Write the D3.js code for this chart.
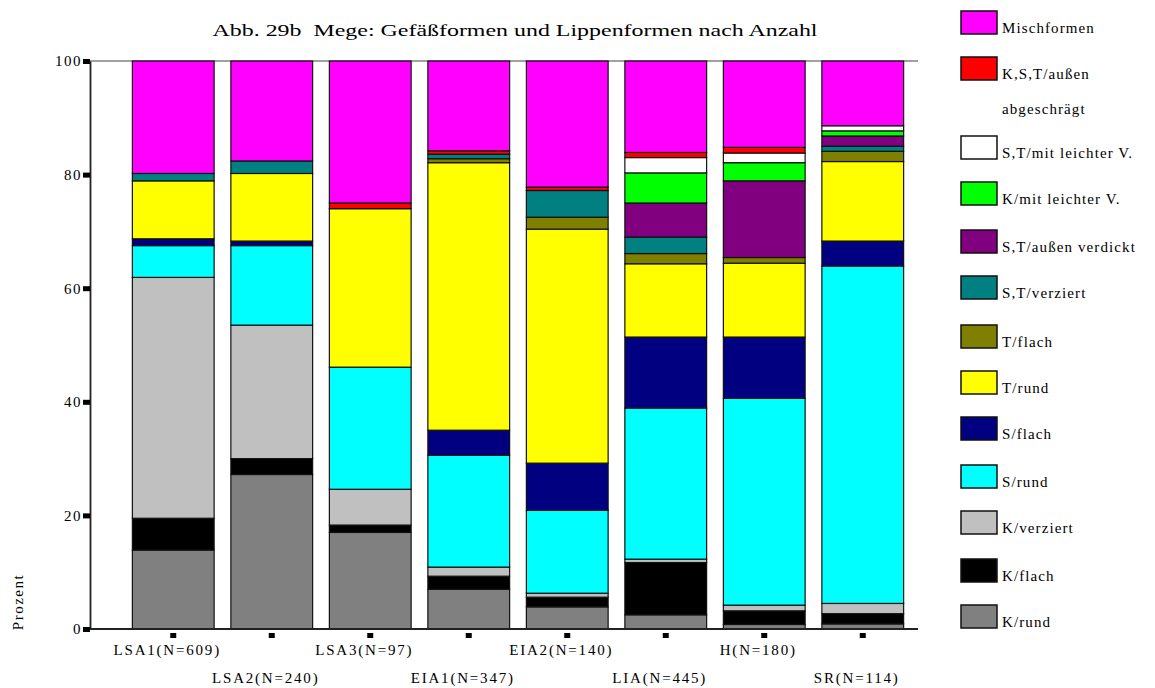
<!DOCTYPE html>
<html>
<head>
<meta charset="utf-8">
<script src="https://cdn.jsdelivr.net/npm/d3@7/dist/d3.min.js"></script>
<style>
  html, body { margin: 0; padding: 0; background: #fff; }
  svg { display: block; }
  text { font-family: "Liberation Serif", "Times New Roman", serif; fill: #000; white-space: pre; }
</style>
</head>
<body>
<svg id="chart" width="1155" height="688"></svg>
<script>
// Sites / periods with sample sizes
const categories = ["LSA1(N=609)", "LSA2(N=240)", "LSA3(N=97)", "EIA1(N=347)",
                    "EIA2(N=140)", "LIA(N=445)", "H(N=180)", "SR(N=114)"];

// Percent shares per vessel / rim form, stacked bottom to top
const kRund        = [13.9, 27.2, 17.0,  7.0,  3.9,  2.5,  0.8,  0.9];
const kFlach       = [ 5.6,  2.8,  1.3,  2.3,  1.7,  9.2,  2.4,  1.8];
const kVerziert    = [42.4, 23.5,  6.3,  1.6,  0.7,  0.6,  1.0,  1.8];
const sRund        = [ 5.6, 14.0, 21.5, 19.7, 14.6, 26.6, 36.4, 59.4];
const sFlach       = [ 1.2,  0.8,  0.0,  4.4,  8.3, 12.5, 10.8,  4.4];
const tRund        = [10.2, 11.9, 27.9, 47.1, 41.2, 12.9, 13.0, 14.0];
const tFlach       = [ 0.0,  0.0,  0.0,  0.7,  2.1,  1.8,  1.0,  1.8];
const stVerziert   = [ 1.3,  2.2,  0.0,  0.8,  4.7,  2.9,  0.0,  0.9];
const stVerdickt   = [ 0.0,  0.0,  0.0,  0.0,  0.0,  6.0, 13.5,  1.8];
const kLeichtV     = [ 0.0,  0.0,  0.0,  0.0,  0.0,  5.3,  3.2,  0.9];
const stLeichtV    = [ 0.0,  0.0,  0.0,  0.0,  0.0,  2.7,  1.7,  0.9];
const abgeschraegt = [ 0.0,  0.0,  1.0,  0.6,  0.6,  0.9,  1.0,  0.0];
const misch        = [19.8, 17.6, 25.0, 15.8, 22.2, 16.1, 15.2, 11.4];

const seriesNames = ["K/rund", "K/flach", "K/verziert", "S/rund", "S/flach", "T/rund",
                     "T/flach", "S,T/verziert", "S,T/außen verdickt", "K/mit leichter V.",
                     "S,T/mit leichter V.", "K,S,T/außen abgeschrägt", "Mischformen"];
const seriesValues = [kRund, kFlach, kVerziert, sRund, sFlach, tRund, tFlach, stVerziert,
                      stVerdickt, kLeichtV, stLeichtV, abgeschraegt, misch];
const seriesColors = ["#808080", "#000000", "#c0c0c0", "#00ffff", "#000080", "#ffff00",
                      "#808000", "#008080", "#800080", "#00ff00", "#ffffff", "#ff0000", "#ff00ff"];
// Legend text lines (the red entry wraps onto two lines)
const legendLines = [["K/rund"], ["K/flach"], ["K/verziert"], ["S/rund"], ["S/flach"], ["T/rund"],
                     ["T/flach"], ["S,T/verziert"], ["S,T/außen verdickt"], ["K/mit leichter V."],
                     ["S,T/mit leichter V."], ["K,S,T/außen", "abgeschrägt"], ["Mischformen"]];
const yTicks = [0, 20, 40, 60, 80, 100];

const title = "Abb. 29b  Mege: Gefäßformen und Lippenformen nach Anzahl";

// Build table for d3.stack
const table = categories.map((c, i) => {
  const row = { cat: c };
  seriesNames.forEach((s, k) => { row[s] = seriesValues[k][i]; });
  return row;
});

const svg = d3.select("#chart");
const plot = { left: 90, right: 918, top: 61, bottom: 629 };

const x = d3.scaleBand().domain(categories).range([124, 912]).paddingInner(0.17).paddingOuter(0.085);
const y = d3.scaleLinear().domain([0, 100]).range([plot.bottom, plot.top]);
const color = d3.scaleOrdinal().domain(seriesNames).range(seriesColors);

const stacked = d3.stack().keys(seriesNames)(table);

// Title
svg.append("text")
  .attr("x", 515).attr("y", 36)
  .attr("text-anchor", "middle")
  .attr("font-size", 17)
  .attr("textLength", 605).attr("lengthAdjust", "spacingAndGlyphs")
  .text(title);

// Plot frame top line
svg.append("line")
  .attr("x1", plot.left).attr("x2", plot.right)
  .attr("y1", plot.top).attr("y2", plot.top)
  .attr("stroke", "#808080").attr("stroke-width", 1.5);

// Stacked bars
svg.append("g").selectAll("g")
  .data(stacked)
  .join("g")
  .attr("fill", d => color(d.key))
  .selectAll("rect")
  .data(d => d.filter(p => p[1] - p[0] > 0))
  .join("rect")
  .attr("x", d => x(d.data.cat))
  .attr("width", x.bandwidth())
  .attr("y", d => y(d[1]))
  .attr("height", d => y(d[0]) - y(d[1]))
  .attr("stroke", "#111")
  .attr("stroke-width", 1.2);

// Y axis
const yAxis = svg.append("g")
  .attr("transform", `translate(${plot.left},0)`)
  .call(d3.axisLeft(y).tickValues(yTicks).tickSize(0).tickPadding(8).tickFormat(d3.format("d")));
yAxis.select(".domain").attr("stroke", "#222").attr("stroke-width", 1.8);
yAxis.selectAll("text")
  .attr("font-family", "Liberation Serif, serif")
  .attr("font-size", 15)
  .attr("letter-spacing", 1.5);
yAxis.selectAll(".tick").append("rect")
  .attr("x", -7).attr("y", -2.5).attr("width", 7).attr("height", 5)
  .attr("fill", "#000");

// X axis line
svg.append("line")
  .attr("x1", plot.left).attr("x2", plot.right)
  .attr("y1", plot.bottom).attr("y2", plot.bottom)
  .attr("stroke", "#222").attr("stroke-width", 1.8);

// X tick marks (small squares below the axis)
svg.append("g").selectAll("rect")
  .data(categories)
  .join("rect")
  .attr("x", d => x(d) + x.bandwidth() / 2 - 3)
  .attr("y", plot.bottom + 4)
  .attr("width", 6).attr("height", 5)
  .attr("fill", "#000");

// X labels, staggered on two rows
svg.append("g").selectAll("text")
  .data(categories)
  .join("text")
  .attr("x", d => x(d) + x.bandwidth() / 2 - 6)
  .attr("y", (d, i) => i % 2 === 0 ? 655 : 683)
  .attr("text-anchor", "middle")
  .attr("font-size", 15)
  .attr("letter-spacing", 1.8)
  .text(d => d);

// Y axis title
svg.append("text")
  .attr("transform", "translate(23,602) rotate(-90)")
  .attr("text-anchor", "middle")
  .attr("font-size", 15)
  .attr("letter-spacing", 1.5)
  .text("Prozent");

// Legend (top entry = last series)
const legendTops = [605, 559, 511, 465, 417, 371, 325, 276, 230, 182, 136, 57, 11];
const legend = svg.append("g").selectAll("g")
  .data(seriesNames.map((s, k) => ({ name: s, k })))
  .join("g")
  .attr("transform", d => `translate(961,${legendTops[d.k]})`);
legend.append("rect")
  .attr("width", 36).attr("height", 23)
  .attr("fill", d => color(d.name))
  .attr("stroke", "#111").attr("stroke-width", 1.5);
legend.append("text")
  .attr("font-size", 15)
  .attr("letter-spacing", 1.1)
  .selectAll("tspan")
  .data(d => legendLines[d.k])
  .join("tspan")
  .attr("x", 41)
  .attr("y", (d, i) => 22 + i * 35)
  .text(d => d);
</script>
</body>
</html>
